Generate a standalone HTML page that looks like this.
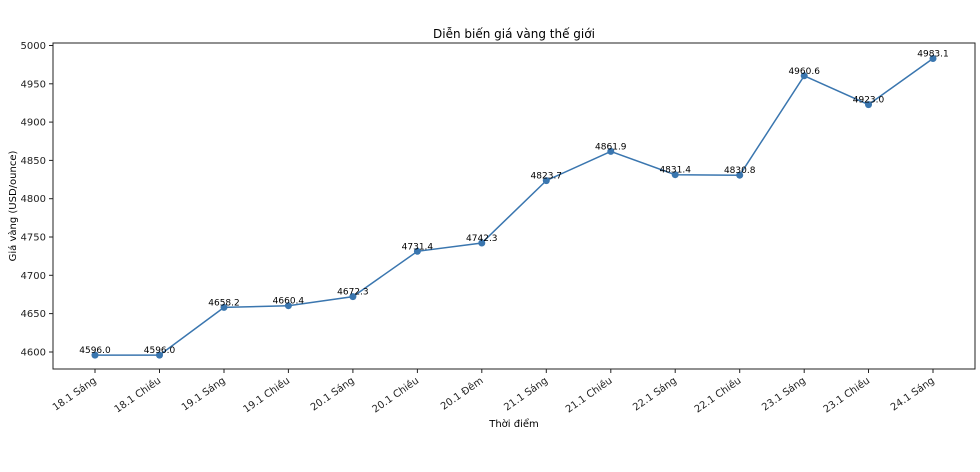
<!DOCTYPE html>
<html><head><meta charset="utf-8"><style>body{margin:0;background:#fff}svg{display:block;font-family:"DejaVu Sans","Liberation Sans",sans-serif}</style></head>
<body>
<svg width="980" height="472" viewBox="0 0 980 472" xmlns="http://www.w3.org/2000/svg">
<rect width="980" height="472" fill="#fff"/>
<text x="514" y="38" font-size="12" text-anchor="middle" fill="#000">Diễn biến giá vàng thế giới</text>
<g font-size="10" fill="#222" text-anchor="end">
<line x1="49" x2="53" y1="45.5" y2="45.5" stroke="#222"/><text x="46" y="49">5000</text>
<line x1="49" x2="53" y1="83.8" y2="83.8" stroke="#222"/><text x="46" y="87.3">4950</text>
<line x1="49" x2="53" y1="122.1" y2="122.1" stroke="#222"/><text x="46" y="125.6">4900</text>
<line x1="49" x2="53" y1="160.4" y2="160.4" stroke="#222"/><text x="46" y="163.9">4850</text>
<line x1="49" x2="53" y1="198.7" y2="198.7" stroke="#222"/><text x="46" y="202.2">4800</text>
<line x1="49" x2="53" y1="237" y2="237" stroke="#222"/><text x="46" y="240.5">4750</text>
<line x1="49" x2="53" y1="275.3" y2="275.3" stroke="#222"/><text x="46" y="278.8">4700</text>
<line x1="49" x2="53" y1="313.6" y2="313.6" stroke="#222"/><text x="46" y="317.1">4650</text>
<line x1="49" x2="53" y1="352" y2="352" stroke="#222"/><text x="46" y="355.5">4600</text>
</g>
<text transform="translate(16,206) rotate(-90)" font-size="10" text-anchor="middle" fill="#000">Giá vàng (USD/ounce)</text>
<text x="514" y="427" font-size="10" text-anchor="middle" fill="#000">Thời điểm</text>
<g font-size="10" fill="#222" text-anchor="end" stroke="#222">
<line x1="95" x2="95" y1="369" y2="373"/><line x1="159.5" x2="159.5" y1="369" y2="373"/><line x1="224" x2="224" y1="369" y2="373"/><line x1="288.4" x2="288.4" y1="369" y2="373"/><line x1="352.9" x2="352.9" y1="369" y2="373"/><line x1="417.4" x2="417.4" y1="369" y2="373"/><line x1="481.8" x2="481.8" y1="369" y2="373"/><line x1="546.3" x2="546.3" y1="369" y2="373"/><line x1="610.8" x2="610.8" y1="369" y2="373"/><line x1="675.2" x2="675.2" y1="369" y2="373"/><line x1="739.7" x2="739.7" y1="369" y2="373"/><line x1="804.2" x2="804.2" y1="369" y2="373"/><line x1="868.5" x2="868.5" y1="369" y2="373"/><line x1="933" x2="933" y1="369" y2="373"/>
</g>
<g font-size="10" fill="#222" text-anchor="end">
<text transform="translate(97,382) rotate(-35)">18.1 Sáng</text>
<text transform="translate(161.5,382) rotate(-35)">18.1 Chiều</text>
<text transform="translate(226,382) rotate(-35)">19.1 Sáng</text>
<text transform="translate(290.4,382) rotate(-35)">19.1 Chiều</text>
<text transform="translate(354.9,382) rotate(-35)">20.1 Sáng</text>
<text transform="translate(419.4,382) rotate(-35)">20.1 Chiều</text>
<text transform="translate(483.8,382) rotate(-35)">20.1 Đêm</text>
<text transform="translate(548.3,382) rotate(-35)">21.1 Sáng</text>
<text transform="translate(612.8,382) rotate(-35)">21.1 Chiều</text>
<text transform="translate(677.2,382) rotate(-35)">22.1 Sáng</text>
<text transform="translate(741.7,382) rotate(-35)">22.1 Chiều</text>
<text transform="translate(806.2,382) rotate(-35)">23.1 Sáng</text>
<text transform="translate(870.5,382) rotate(-35)">23.1 Chiều</text>
<text transform="translate(935,382) rotate(-35)">24.1 Sáng</text>
</g>
<rect x="53" y="43" width="922" height="326" fill="none" stroke="#222" stroke-width="1"/>
<polyline fill="none" stroke="#3a76af" stroke-width="1.5" points="95,355.1 159.5,355.1 224,307.4 288.4,305.7 352.9,296.6 417.4,251.3 481.8,243 546.3,180.6 610.8,151.4 675.2,174.7 739.7,175.2 804.2,75.8 868.5,104.6 933,58.5"/>
<g fill="#3a76af">
<circle cx="95" cy="355.1" r="3.5"/><circle cx="159.5" cy="355.1" r="3.5"/><circle cx="224" cy="307.4" r="3.5"/><circle cx="288.4" cy="305.7" r="3.5"/><circle cx="352.9" cy="296.6" r="3.5"/><circle cx="417.4" cy="251.3" r="3.5"/><circle cx="481.8" cy="243" r="3.5"/><circle cx="546.3" cy="180.6" r="3.5"/><circle cx="610.8" cy="151.4" r="3.5"/><circle cx="675.2" cy="174.7" r="3.5"/><circle cx="739.7" cy="175.2" r="3.5"/><circle cx="804.2" cy="75.8" r="3.5"/><circle cx="868.5" cy="104.6" r="3.5"/><circle cx="933" cy="58.5" r="3.5"/>
</g>
<g font-size="9" fill="#000" text-anchor="middle">
<text x="95" y="353">4596.0</text><text x="159.5" y="353">4596.0</text><text x="224" y="305.4">4658.2</text><text x="288.4" y="303.7">4660.4</text><text x="352.9" y="294.6">4672.3</text><text x="417.4" y="249.3">4731.4</text><text x="481.8" y="241">4742.3</text><text x="546.3" y="178.6">4823.7</text><text x="610.8" y="149.4">4861.9</text><text x="675.2" y="172.7">4831.4</text><text x="739.7" y="173.2">4830.8</text><text x="804.2" y="73.8">4960.6</text><text x="868.5" y="102.6">4923.0</text><text x="933" y="56.5">4983.1</text>
</g>
</svg>
</body></html>
